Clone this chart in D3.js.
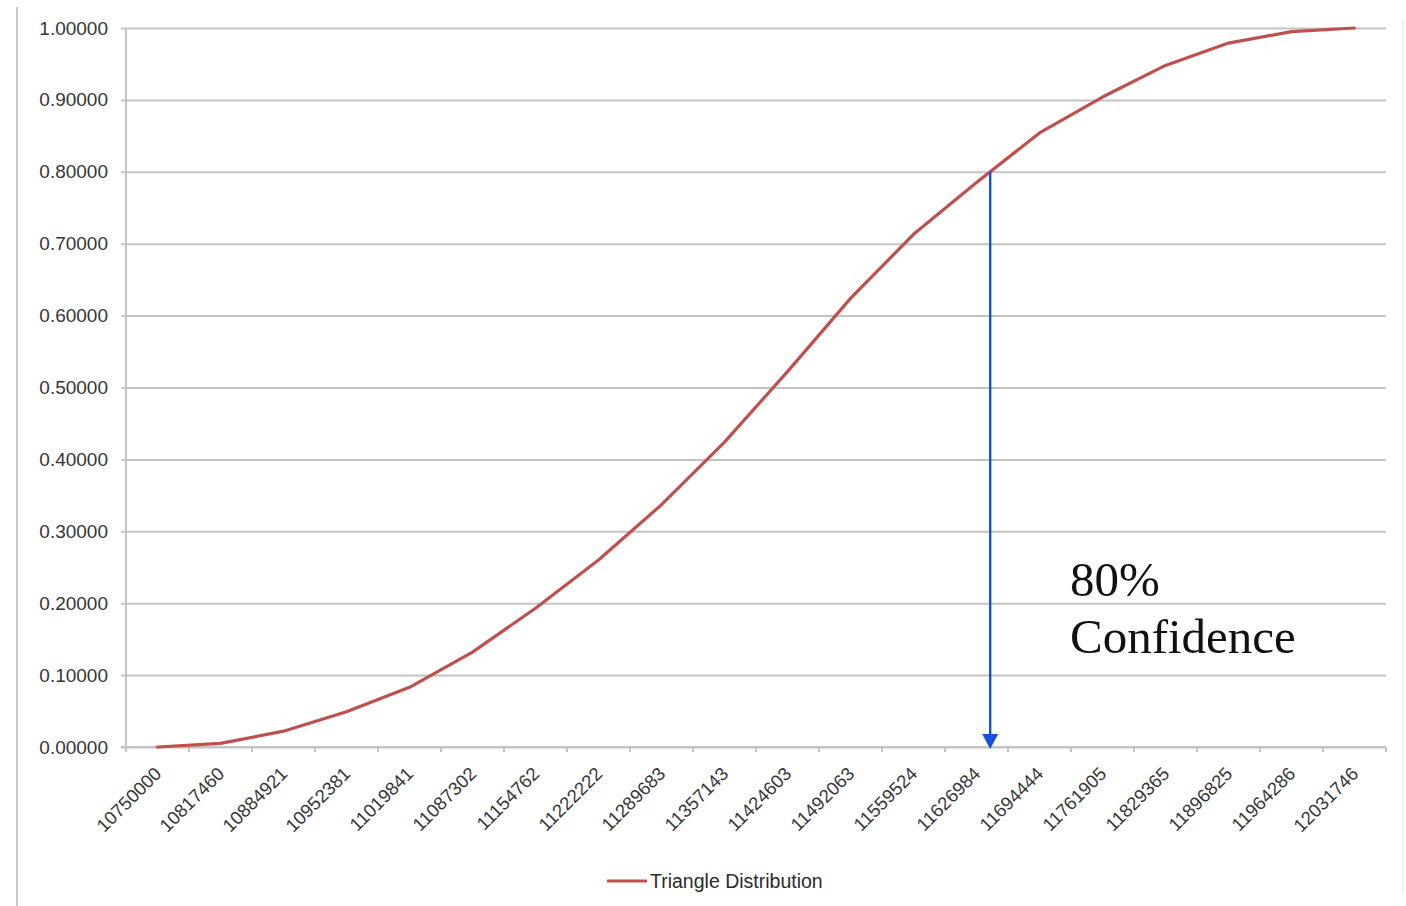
<!DOCTYPE html>
<html>
<head>
<meta charset="utf-8">
<script src="https://cdn.jsdelivr.net/npm/d3@7/dist/d3.min.js"></script>
<style>
  html, body { margin: 0; padding: 0; background: #ffffff; }
  svg { display: block; }
</style>
</head>
<body>
<svg id="chart" width="1406" height="906"></svg>
<script>
// Cumulative probability of project cost under a triangle distribution
const categories = [
  "10750000", "10817460", "10884921", "10952381", "11019841",
  "11087302", "11154762", "11222222", "11289683", "11357143",
  "11424603", "11492063", "11559524", "11626984", "11694444",
  "11761905", "11829365", "11896825", "11964286", "12031746"
];
const cumulative = [
  0.000, 0.005, 0.022, 0.049, 0.083,
  0.132, 0.193, 0.260, 0.337, 0.424,
  0.522, 0.624, 0.713, 0.785, 0.854,
  0.904, 0.948, 0.979, 0.995, 1.000
];
const yTicks = [0, 0.1, 0.2, 0.3, 0.4, 0.5, 0.6, 0.7, 0.8, 0.9, 1.0];
const seriesName = "Triangle Distribution";
const confidenceLevel = 0.8;
const confidenceLines = ["80%", "Confidence"];

const svg = d3.select("#chart");
const W = 1406, H = 906;
const plot = { left: 126, right: 1386, top: 28, bottom: 747 };
const gridColor = "#c4c4c4";
const textColor = "#363636";
const seriesColor = "#c0504d";

svg.append("rect").attr("width", W).attr("height", H).attr("fill", "#ffffff");

// outer frame of the chart area
svg.append("line").attr("x1", 17).attr("x2", 17).attr("y1", 7).attr("y2", H)
  .attr("stroke", "#c8c8c8").attr("stroke-width", 2);
svg.append("line").attr("x1", 1403).attr("x2", 1403).attr("y1", 20).attr("y2", 893)
  .attr("stroke", "#ececec").attr("stroke-width", 1.5);

const x = d3.scaleBand().domain(categories).range([plot.left, plot.right]).padding(0);
const y = d3.scaleLinear().domain([0, 1]).range([plot.bottom, plot.top]);
const cx = d => x(d) + x.bandwidth() / 2;

// horizontal gridlines + y axis labels
const yAxis = d3.axisLeft(y)
  .tickValues(yTicks)
  .tickFormat(d3.format(".5f"))
  .tickSize(-(plot.right - plot.left))
  .tickPadding(18);
const gy = svg.append("g").attr("transform", `translate(${plot.left},0)`).call(yAxis);
gy.select(".domain").remove();
gy.selectAll(".tick line")
  .attr("x1", -5)
  .attr("stroke", gridColor).attr("stroke-width", 2);
gy.selectAll(".tick text")
  .attr("font-family", "Liberation Sans, Arial, sans-serif")
  .attr("font-size", 19).attr("fill", textColor);

// y axis line
svg.append("line").attr("x1", plot.left).attr("x2", plot.left)
  .attr("y1", plot.top).attr("y2", plot.bottom + 5)
  .attr("stroke", gridColor).attr("stroke-width", 2);

// x axis line and tick marks between categories
svg.append("line").attr("x1", plot.left - 5).attr("x2", plot.right)
  .attr("y1", plot.bottom).attr("y2", plot.bottom)
  .attr("stroke", gridColor).attr("stroke-width", 2);
const boundaries = categories.map(d => x(d)).concat([x(categories[categories.length - 1]) + x.bandwidth()]);
svg.append("g").selectAll("line").data(boundaries).join("line")
  .attr("x1", d => d).attr("x2", d => d)
  .attr("y1", plot.bottom).attr("y2", plot.bottom + 5)
  .attr("stroke", gridColor).attr("stroke-width", 2);

// rotated category labels
svg.append("g").selectAll("text").data(categories).join("text")
  .attr("transform", d => `translate(${cx(d) + 5},${plot.bottom + 28}) rotate(-45)`)
  .attr("text-anchor", "end")
  .attr("font-family", "Liberation Sans, Arial, sans-serif")
  .attr("font-size", 18.5).attr("fill", textColor)
  .text(d => d);

// cumulative distribution line
const line = d3.line().x((d, i) => cx(categories[i])).y(d => y(d));
svg.append("path").datum(cumulative)
  .attr("d", line)
  .attr("fill", "none")
  .attr("stroke", seriesColor).attr("stroke-width", 3.2)
  .attr("stroke-linejoin", "round").attr("stroke-linecap", "round");

// where the curve reaches the confidence level
let crossX = cx(categories[categories.length - 1]);
for (let i = 1; i < cumulative.length; i++) {
  if (cumulative[i] >= confidenceLevel) {
    const t = (confidenceLevel - cumulative[i - 1]) / (cumulative[i] - cumulative[i - 1]);
    crossX = cx(categories[i - 1]) + t * (cx(categories[i]) - cx(categories[i - 1]));
    break;
  }
}

// arrow dropping from the curve to the axis
const arrowColor = "#1652d8";
svg.append("line")
  .attr("x1", crossX).attr("x2", crossX)
  .attr("y1", y(confidenceLevel)).attr("y2", y(0) - 10)
  .attr("stroke", arrowColor).attr("stroke-width", 2.4);
svg.append("path")
  .attr("d", `M${crossX - 8},${y(0) - 13} L${crossX + 8},${y(0) - 13} L${crossX},${y(0) + 2} Z`)
  .attr("fill", arrowColor);

// annotation text
svg.append("g").selectAll("text").data(confidenceLines).join("text")
  .attr("x", 1070)
  .attr("y", (d, i) => 596 + i * 57)
  .attr("font-family", "Liberation Serif, Times New Roman, serif")
  .attr("font-size", 49).attr("fill", "#111111")
  .text(d => d);

// legend
const legend = svg.append("g").attr("transform", "translate(607,881)");
legend.append("line").attr("x1", 0).attr("x2", 40).attr("y1", 0).attr("y2", 0)
  .attr("stroke", seriesColor).attr("stroke-width", 3);
legend.append("text").attr("x", 43).attr("y", 0).attr("dy", "0.35em")
  .attr("font-family", "Liberation Sans, Arial, sans-serif")
  .attr("font-size", 19.5).attr("fill", "#2a2a2a")
  .text(seriesName);
</script>
</body>
</html>
